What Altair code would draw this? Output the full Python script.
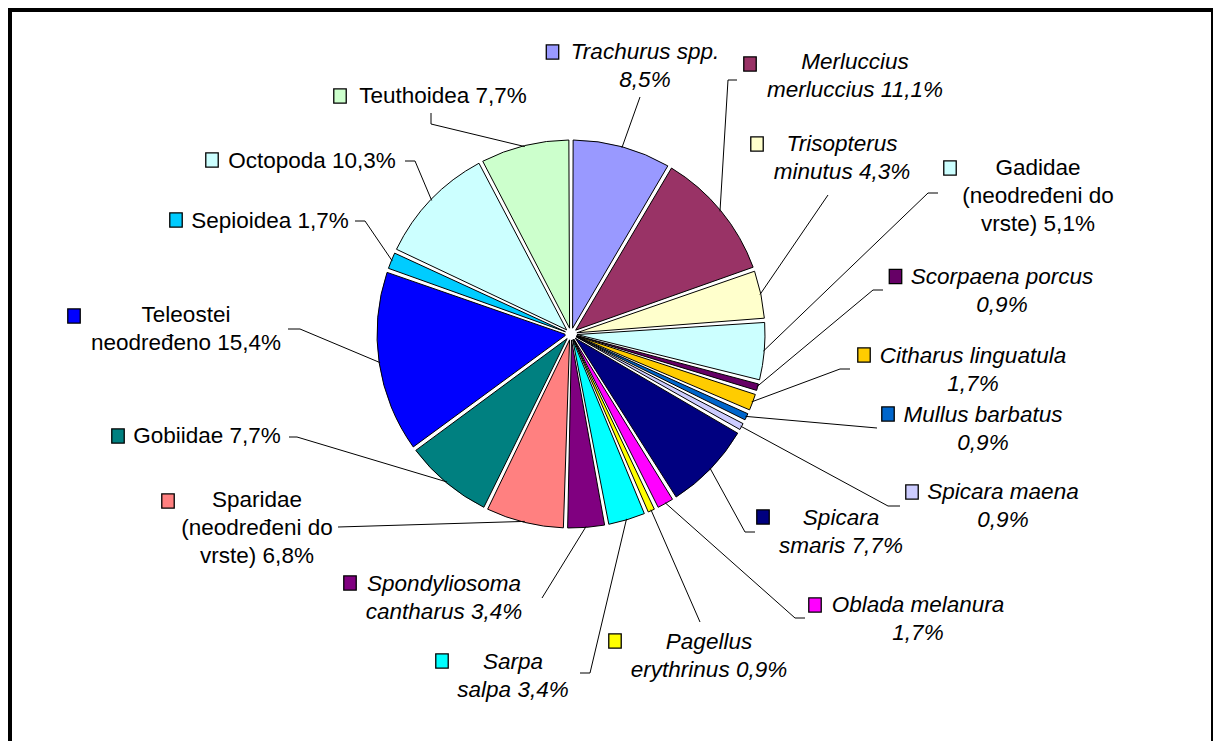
import altair as alt
import pandas as pd
import numpy as np

# ---------------- data ----------------
names = ["Trachurus spp.", "Merluccius merluccius", "Trisopterus minutus",
         "Gadidae (neodređeni do vrste)", "Scorpaena porcus", "Citharus linguatula",
         "Mullus barbatus", "Spicara maena", "Spicara smaris", "Oblada melanura",
         "Pagellus erythrinus", "Sarpa salpa", "Spondyliosoma cantharus",
         "Sparidae (neodređeni do vrste)", "Gobiidae", "Teleostei neodređeno",
         "Sepioidea", "Octopoda", "Teuthoidea"]
values = [8.5, 11.1, 4.3, 5.1, 0.9, 1.7, 0.9, 0.9, 7.7, 1.7, 0.9, 3.4, 3.4,
          6.8, 7.7, 15.4, 1.7, 10.3, 7.7]
colors = ["#9999FF", "#993366", "#FFFFCC", "#CCFFFF", "#660066", "#FFCC00",
          "#0066CC", "#CCCCFF", "#000080", "#FF00FF", "#FFFF00", "#00FFFF",
          "#800080", "#FF8080", "#008080", "#0000FF", "#00CCFF", "#CCFFFF",
          "#CCFFCC"]
italic = [True, True, True, False, True, True, True, True, True, True, True,
          True, True, False, False, False, False, False, False]
label_lines = [
    ["Trachurus spp.", "8,5%"],
    ["Merluccius", "merluccius 11,1%"],
    ["Trisopterus", "minutus 4,3%"],
    ["Gadidae", "(neodređeni do", "vrste) 5,1%"],
    ["Scorpaena porcus", "0,9%"],
    ["Citharus linguatula", "1,7%"],
    ["Mullus barbatus", "0,9%"],
    ["Spicara maena", "0,9%"],
    ["Spicara", "smaris  7,7%"],
    ["Oblada melanura", "1,7%"],
    ["Pagellus", "erythrinus 0,9%"],
    ["Sarpa", "salpa 3,4%"],
    ["Spondyliosoma", "cantharus 3,4%"],
    ["Sparidae", "(neodređeni do", "vrste) 6,8%"],
    ["Gobiidae 7,7%"],
    ["Teleostei", "neodređeno 15,4%"],
    ["Sepioidea 1,7%"],
    ["Octopoda 10,3%"],
    ["Teuthoidea 7,7%"],
]

# ---------------- layout (page pixel coordinates) ----------------
OFF = 8
W, H = 1205, 733
CX, CY, R = 571 - OFF, 334 - OFF, 194
LINE_GAP = 28
label_cx = [645, 855, 842, 1038, 1002, 973, 983, 1003, 841, 918, 709, 513, 444,
            257, 207, 186, 270, 312, 443]
label_y0 = [52, 62, 144, 168, 277, 356, 415, 492, 518, 605, 642, 662, 584,
            500, 436, 315, 221, 161, 96]
marker_xy = [(552.5, 52), (750, 64), (757, 144), (950, 168), (895.5, 276.5),
             (864, 355), (888, 414), (912, 492), (763, 517), (815, 605),
             (615, 641), (442, 661), (350, 583), (168, 501), (118, 436),
             (74, 316), (176, 220), (212, 160), (340, 96)]
leader_elbows = [
    [(640, 97)],
    [(728, 80), (737, 80)],
    [(828, 195)],
    [(928, 193), (938, 193)],
    [(873, 290), (883, 290)],
    [(840, 369), (850, 369)],
    [(877, 428)],
    [(888, 506), (900, 506)],
    [(745, 532), (755, 532)],
    [(795, 618), (805, 618)],
    [(700, 622)],
    [(590, 673), (580, 673)],
    [(542, 598)],
    [(338, 527)],
    [(297, 437), (289, 437)],
    [(300, 329), (288, 329)],
    [(365, 221), (355, 221)],
    [(415, 161), (405, 161)],
    [(431, 124), (431, 113)],
]

# ---------------- tables ----------------
pie_df = pd.DataFrame({"name": names, "value": values, "idx": range(len(names))})

total = sum(values)
cum = np.cumsum([0] + values[:-1])
mid = [(c + v / 2) / total * 2 * np.pi for c, v in zip(cum, values)]

line_rows = []
for i, n in enumerate(names):
    sx = CX + (R - 1) * np.sin(mid[i])
    sy = CY - (R - 1) * np.cos(mid[i])
    pts = [(sx, sy)] + [(x - OFF, y - OFF) for x, y in leader_elbows[i]]
    for k, (x, y) in enumerate(pts):
        line_rows.append({"lid": i, "seq": k, "x": x, "y": y})
lines_df = pd.DataFrame(line_rows)

text_rows = []
for i, n in enumerate(names):
    for j, t in enumerate(label_lines[i]):
        text_rows.append({"text": t, "x": label_cx[i] - OFF,
                          "y": label_y0[i] - OFF + j * LINE_GAP, "italic": italic[i]})
text_df = pd.DataFrame(text_rows)

marker_df = pd.DataFrame({"name": names,
                          "x": [m[0] - OFF for m in marker_xy],
                          "y": [m[1] - OFF for m in marker_xy]})

xs = alt.Scale(domain=[0, W], nice=False, zero=False)
ys = alt.Scale(domain=[0, H], nice=False, zero=False, reverse=True)
cscale = alt.Scale(domain=names, range=colors)
FONT = "Liberation Sans"
FS = 22.5

pie = alt.Chart(pie_df).mark_arc(
    stroke="black", strokeWidth=1, padAngle=0.022, radius=R, innerRadius=6
).encode(
    theta=alt.Theta("value:Q", stack=True),
    order=alt.Order("idx:Q"),
    color=alt.Color("name:N", scale=cscale, legend=None),
    x=alt.value(CX), y=alt.value(CY),
)

leaders = alt.Chart(lines_df).mark_line(color="black", strokeWidth=1).encode(
    x=alt.X("x:Q", scale=xs, axis=None),
    y=alt.Y("y:Q", scale=ys, axis=None),
    detail="lid:N",
    order="seq:Q",
)

text_it = alt.Chart(text_df[text_df["italic"]]).mark_text(
    font=FONT, fontSize=FS, fontStyle="italic", align="center", baseline="middle", color="black"
).encode(x=alt.X("x:Q", scale=xs, axis=None), y=alt.Y("y:Q", scale=ys, axis=None), text="text:N")

text_rm = alt.Chart(text_df[~text_df["italic"]]).mark_text(
    font=FONT, fontSize=FS, align="center", baseline="middle", color="black"
).encode(x=alt.X("x:Q", scale=xs, axis=None), y=alt.Y("y:Q", scale=ys, axis=None), text="text:N")

markers = alt.Chart(marker_df).mark_point(
    filled=True, shape="M-0.88,-1L0.88,-1L0.88,1L-0.88,1Z", size=200,
    stroke="black", strokeWidth=1.3, opacity=1
).encode(
    x=alt.X("x:Q", scale=xs, axis=None),
    y=alt.Y("y:Q", scale=ys, axis=None),
    color=alt.Color("name:N", scale=cscale, legend=None),
)

frame_left = alt.Chart(pie_df).mark_rule(color="black", strokeWidth=4).encode(
    x=alt.value(2), y=alt.value(0), y2=alt.value(H))
frame_top = alt.Chart(pie_df).mark_rule(color="black", strokeWidth=4).encode(
    x=alt.value(0), x2=alt.value(W), y=alt.value(1.5))
frame_right = alt.Chart(pie_df).mark_rule(color="black", strokeWidth=2).encode(
    x=alt.value(W - 1), y=alt.value(0), y2=alt.value(H))

chart = alt.layer(
    pie, leaders, text_it, text_rm, markers, frame_left, frame_top, frame_right
).properties(
    width=W, height=H, padding=0, autosize=alt.AutoSizeParams(type="none")
).configure_view(stroke=None).configure(background="white")

chart.save("out.html", embed_options={"renderer": "svg", "actions": False})
